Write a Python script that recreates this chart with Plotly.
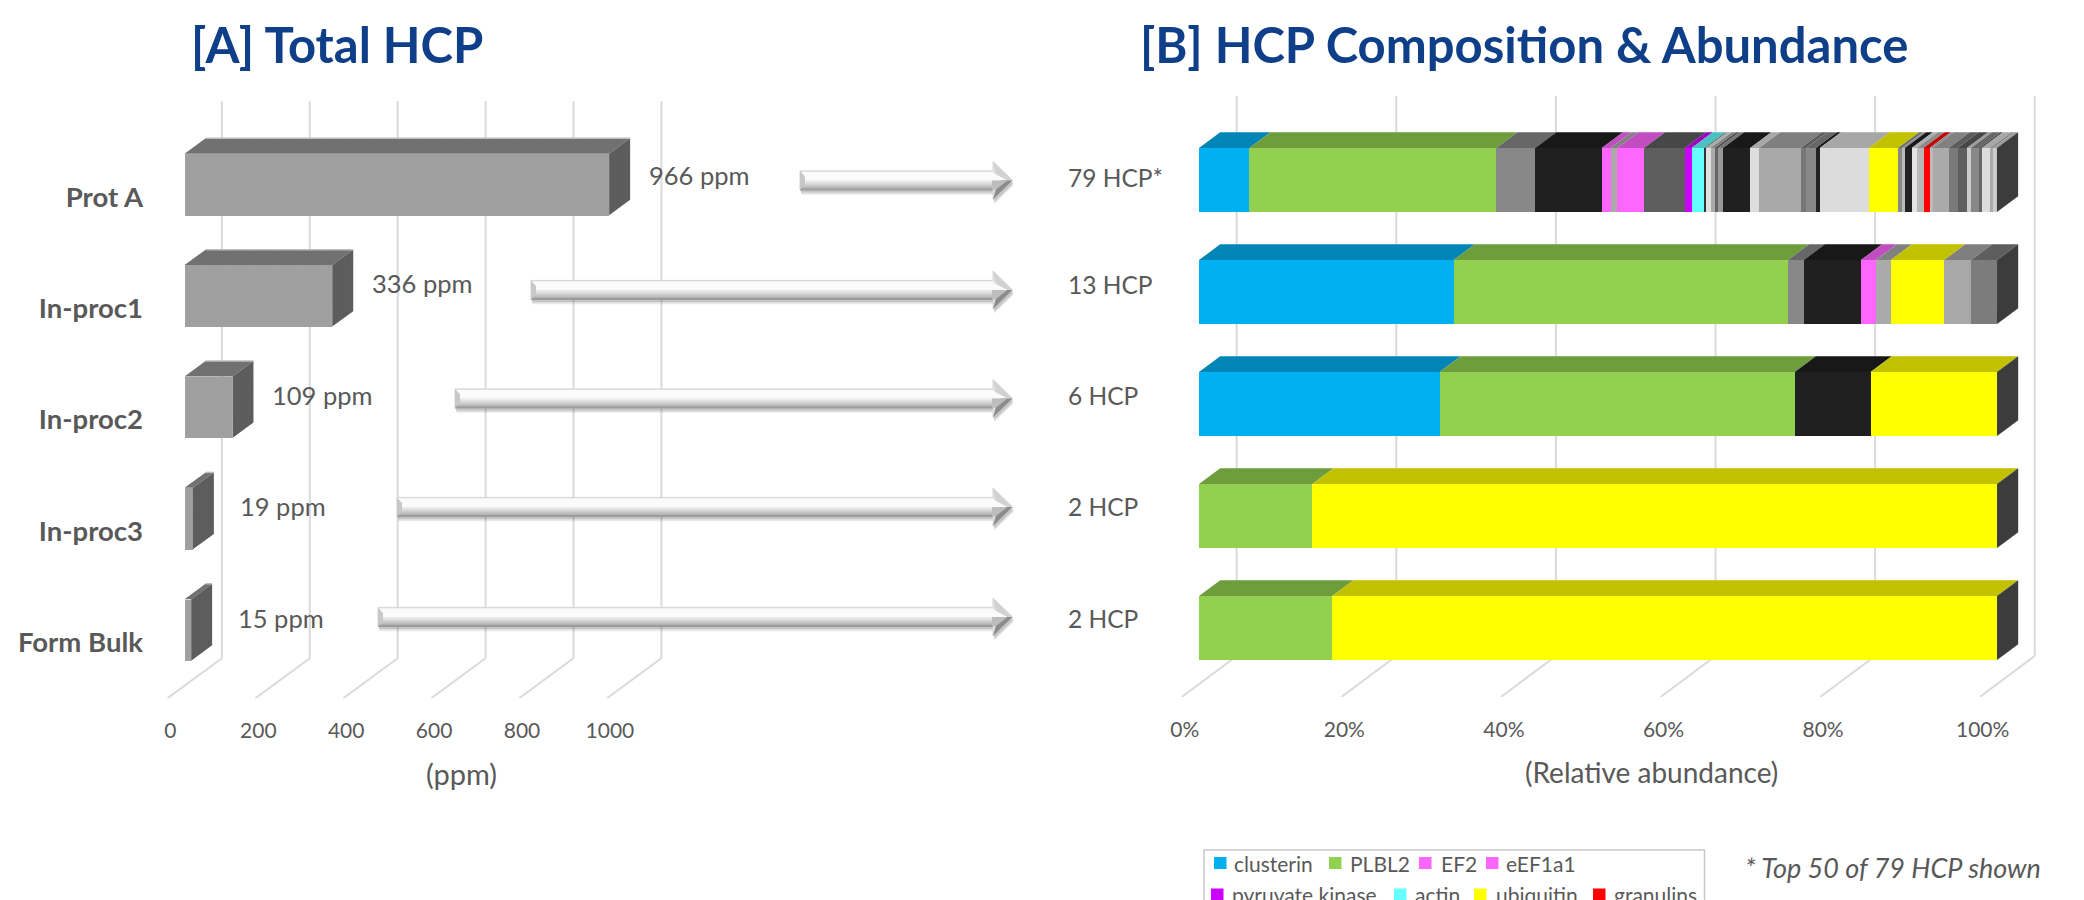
import plotly.graph_objects as go

W, H = 2084, 900

# ---- data -----------------------------------------------------------------
categories = ["Prot A", "In-proc1", "In-proc2", "In-proc3", "Form Bulk"]
total_hcp_ppm = [966, 336, 109, 19, 15]
hcp_counts = ["79 HCP*", "13 HCP", "6 HCP", "2 HCP", "2 HCP"]
ppm_ticks = [0, 200, 400, 600, 800, 1000]
pct_ticks = [0, 0.2, 0.4, 0.6, 0.8, 1.0]

prot_a_pct = [6.31, 30.95, 4.86, 8.36, 1.09, 0.84, 3.34, 5.14, 0.84, 1.63, 0.13, 0.63, 0.54,
              0.43, 0.58, 3.39, 1.13, 5.23, 0.63, 1.25, 0.50, 6.11, 3.71, 0.43, 0.41, 0.84,
              0.66, 0.84, 0.75, 0.41, 1.97, 1.13, 1.17, 0.50, 1.04, 0.34, 1.04, 0.34, 0.50]
in_proc1_pct = [31.9, 41.9, 1.97, 7.18, 1.83, 1.91, 6.69, 3.38, 3.24]
in_proc2_pct = [30.15, 44.5, 9.5, 15.85]
in_proc3_pct = [14.2, 85.8]
form_bulk_pct = [16.7, 83.3]
composition_pct = [prot_a_pct, in_proc1_pct, in_proc2_pct, in_proc3_pct, form_bulk_pct]

# ---- palette --------------------------------------------------------------
CLU, PLB, MAG, PYR, ACT, UBQ, GRN = "#00b0f0", "#92d050", "#ff66ff", "#cc00ff", "#66ffff", "#ffff00", "#ff0000"
prot_a_colors = [CLU, PLB, "#888888", "#202020", MAG, "#aaaaaa", MAG, "#5e5e5e", PYR, ACT, "#333333",
                 "#e0e0e0", "#aaaaaa", "#666666", "#999999", "#202020", "#dddddd", "#a8a8a8", "#777777",
                 "#888888", "#222222", "#dcdcdc", UBQ, "#888888", "#bbbbbb", "#222222", "#e4e4e4",
                 "#b8b8b8", GRN, "#bbbbbb", "#aaaaaa", "#7a7a7a", "#5e5e5e", "#cccccc", "#888888",
                 "#666666", "#dddddd", "#aaaaaa", "#cccccc"]
in_proc1_colors = [CLU, PLB, "#888888", "#202020", MAG, "#aaaaaa", UBQ, "#a8a8a8", "#7c7c7c"]
in_proc2_colors = [CLU, PLB, "#202020", UBQ]
in_proc3_colors = [PLB, UBQ]
form_bulk_colors = [PLB, UBQ]
composition_colors = [prot_a_colors, in_proc1_colors, in_proc2_colors, in_proc3_colors, form_bulk_colors]

legend_rows = [
    [("clusterin", CLU, 1214, 1232), ("PLBL2", PLB, 1329, 1348), ("EF2", MAG, 1419, 1439), ("eEF1a1", MAG, 1486, 1504)],
    [("pyruvate kinase", PYR, 1211, 1230), ("actin", ACT, 1394, 1413), ("ubiquitin", UBQ, 1474, 1494), ("granulins", GRN, 1593, 1612)],
]

TEXT = "#595959"
GRID = "#dadada"
TITLE = "#0f3f88"
FONT = "Lato"


def fx(x):
    return x / W


def fy(y):
    return 1 - y / H


def darken(c, k=0.76):
    r, g, b = (int(c[i:i + 2], 16) for i in (1, 3, 5))
    return "#%02x%02x%02x" % (int(r * k), int(g * k), int(b * k))


# ---- oblique projection: depth 0 is the front of the floor, depth 1 the back wall
BAR_FRONT, BAR_BACK = 0.315, 0.70


class Panel:
    def __init__(self, xa, ya, x_zero_px, px_per_unit, row0_px, pitch, dom_x, dx_px, dy_px, bar_h):
        self.xa, self.ya = xa, ya
        self.dx = dx_px / px_per_unit
        self.dy = dy_px / pitch
        self.bar_h = bar_h / pitch
        self.xrange = [(dom_x[0] - x_zero_px) / px_per_unit, (dom_x[1] - x_zero_px) / px_per_unit]
        self.domx = [fx(dom_x[0]), fx(dom_x[1])]
        top = row0_px - pitch
        bot = row0_px + 4.5 * pitch
        self.domy = [fy(bot), fy(top)]
        self.yrange = [4.5, -1.0]

    def pt(self, x, row, depth):
        return x + depth * self.dx, row - depth * self.dy

    def face(self, corners):
        xs, ys = zip(*[self.pt(*c) for c in corners])
        return list(xs) + [xs[0]], list(ys) + [ys[0]]

    def block_faces(self, x0, x1, row):
        h = self.bar_h / 2
        top = self.face([(x0, row - h, BAR_FRONT), (x1, row - h, BAR_FRONT), (x1, row - h, BAR_BACK), (x0, row - h, BAR_BACK)])
        side = self.face([(x1, row - h, BAR_FRONT), (x1, row + h, BAR_FRONT), (x1, row + h, BAR_BACK), (x1, row - h, BAR_BACK)])
        return top, side

    def grid_shapes(self, ticks):
        out = []
        line = dict(color=GRID, width=2)
        for t in ticks:
            wx, wy_top = self.pt(t, -0.5, 1)
            _, wy_bot = self.pt(t, 4.5, 1)
            fx0, fy0 = self.pt(t, 4.5, 0)
            for a, b, c, d in [(wx, wy_top, wx, wy_bot), (wx, wy_bot, fx0, fy0)]:
                out.append(dict(type="line", xref=self.xa, yref=self.ya, x0=a, y0=b, x1=c, y1=d, layer="below", line=line))
        return out


A = Panel("x", "y", 167.4, 0.4395, 197.0, 111.4, (144, 1020), 54.5, 40.0, 61.5)
B = Panel("x2", "y2", 1181.7, 798.0, 193.0, 112.0, (1160, 2065), 55.0, 41.0, 64.0)

fig = go.Figure()

# Panel A: extruded total-HCP bars
FRONT_A, TOP_A, SIDE_A = "#9d9d9d", "#727272", "#5f5f5f"
for i, v in enumerate(total_hcp_ppm):
    base, row_y = A.pt(0, i, BAR_FRONT)
    fig.add_trace(go.Bar(
        y=[row_y], x=[v], base=[base], orientation="h", width=A.bar_h, xaxis="x", yaxis="y",
        marker=dict(color=FRONT_A, line_width=0,
                    pattern=dict(shape=".", size=3, solidity=0.5, fgcolor="#959595", bgcolor="#a3a3a3")),
        showlegend=False, hoverinfo="x+y"))
    top, side = A.block_faces(0, v, i)
    for (xs, ys), col, fg in [(top, TOP_A, "#6a6a6a"), (side, SIDE_A, "#565656")]:
        fig.add_trace(go.Scatter(x=xs, y=ys, xaxis="x", yaxis="y", mode="none", fill="toself", fillcolor=col,
                                 fillpattern=dict(shape=".", size=3, solidity=0.5, fgcolor=fg, bgcolor=col),
                                 showlegend=False, hoverinfo="skip"))
    # light rim along the rear top edge
    (ex0, ey0), (ex1, ey1) = A.pt(0, i - A.bar_h / 2, BAR_BACK), A.pt(v, i - A.bar_h / 2, BAR_BACK)
    fig.add_trace(go.Scatter(x=[ex0, ex1], y=[ey0, ey1], xaxis="x", yaxis="y", mode="lines",
                             line=dict(color="#bdbdbd", width=1.5), showlegend=False, hoverinfo="skip"))

# Panel B: stacked composition bars
for i, (pcts, cols) in enumerate(zip(composition_pct, composition_colors)):
    fractions = [p / 100 for p in pcts]
    starts = [sum(fractions[:k]) for k in range(len(fractions))]
    origin, row_y = B.pt(0, i, BAR_FRONT)
    fig.add_trace(go.Bar(
        y=[row_y] * len(fractions), x=fractions, base=[origin + s for s in starts], orientation="h",
        width=B.bar_h, xaxis="x2", yaxis="y2", marker=dict(color=cols, line_width=0),
        showlegend=False, hoverinfo="x"))
    for s, f, c in zip(starts, fractions, cols):
        (xs, ys), _ = B.block_faces(s, s + f, i)
        fig.add_trace(go.Scatter(x=xs, y=ys, xaxis="x2", yaxis="y2", mode="none", fill="toself",
                                 fillcolor=darken(c), showlegend=False, hoverinfo="skip"))
    total = sum(fractions)
    _, (xs, ys) = B.block_faces(0, total, i)
    fig.add_trace(go.Scatter(x=xs, y=ys, xaxis="x2", yaxis="y2", mode="none", fill="toself",
                             fillcolor="#3c3c3c", showlegend=False, hoverinfo="skip"))


# ---- beveled callout arrows, in page pixels ---------------------------------
def poly(points, fill, line=None, lw=0):
    path = "M " + " L ".join(f"{fx(x):.6f} {fy(y):.6f}" for x, y in points) + " Z"
    return dict(type="path", xref="paper", yref="paper", path=path, fillcolor=fill,
                line=dict(color=line or "rgba(0,0,0,0)", width=lw), layer="above")


def arrow_shapes(tail, tip, yc):
    sh, hh = 9.6, 19
    hb = tip - 19.5
    outline = [(tail, yc - sh), (hb, yc - sh), (hb, yc - hh), (tip, yc), (hb, yc + hh), (hb, yc + sh), (tail, yc + sh)]
    out = []
    for dx, dy, alpha in [(1, 5, 0.05), (1.5, 4, 0.07), (1, 2.5, 0.12)]:
        out.append(poly([(x + dx, y + dy) for x, y in outline], f"rgba(0,0,0,{alpha})"))
    out.append(poly(outline, "#e4e4e4", "#d6d6d6", 1))
    out.append(poly([(tail, yc - sh + 1), (hb, yc - sh + 1), (hb, yc), (tail, yc)], "#fbfbfb"))
    bands = ["#ececec", "#e0e0e0", "#d2d2d2", "#c4c4c4", "#b2b2b2", "#9c9c9c"]
    step = sh / len(bands)
    for k, col in enumerate(bands):
        out.append(poly([(tail, yc + k * step), (hb, yc + k * step), (hb, yc + (k + 1) * step + 0.3), (tail, yc + (k + 1) * step + 0.3)], col))
    # tail and head bevels
    out.append(poly([(tail, yc - sh), (tail + 5, yc - 4), (tail + 5, yc + 4), (tail, yc + sh)], "#c8c8c8"))
    out.append(poly([(hb, yc - hh), (tip, yc), (hb + 6, yc), (hb + 3, yc - 5)], "#d2d2d2"))
    out.append(poly([(hb - 1, yc - sh + 1), (hb + 3, yc - 6), (tip - 5, yc), (hb - 1, yc)], "#fafafa"))
    out.append(poly([(hb, yc + hh), (tip, yc), (hb + 8, yc), (hb + 3, yc + 8)], "#8c8c8c"))
    out.append(poly([(hb - 1, yc), (tip - 5, yc), (hb + 3, yc + 9), (hb - 1, yc + sh)], "#bdbdbd"))
    return out


arrow_tail_px = [800, 531, 455, 397, 378]
arrow_mid_px = [180.5, 290, 398.5, 507, 617]
ARROW_TIP = 1012.5

shapes = A.grid_shapes(ppm_ticks) + B.grid_shapes(pct_ticks)
for tail, mid in zip(arrow_tail_px, arrow_mid_px):
    shapes += arrow_shapes(tail, ARROW_TIP, mid)

# ---- legend box, cut off by the bottom of the page ---------------------------
LEG_L, LEG_R, LEG_T = 1204, 1704.5, 850
shapes.append(dict(type="rect", xref="paper", yref="paper", x0=fx(LEG_L), x1=fx(LEG_R), y0=fy(LEG_T), y1=fy(930),
                   line=dict(color="#c8c8c8", width=1.5), fillcolor="white", layer="above"))
legend_y = [863, 894.5]
annots = []
for row, yc in zip(legend_rows, legend_y):
    for name, col, sx, tx in row:
        shapes.append(dict(type="rect", xref="paper", yref="paper", x0=fx(sx), x1=fx(sx + 12.5),
                           y0=fy(yc - 6), y1=fy(yc + 6), line_width=0, fillcolor=col, layer="above"))
        annots.append(dict(text=name, xref="paper", yref="paper", x=fx(tx), y=fy(yc), xanchor="left", yanchor="middle",
                           showarrow=False, font=dict(family=FONT, size=21, color=TEXT)))


def page_text(text, x, y, size, anchor="left", color=TEXT, **font):
    annots.append(dict(text=text, xref="paper", yref="paper", x=fx(x), y=fy(y), xanchor=anchor, yanchor="middle",
                       showarrow=False, font=dict(family=font.pop("family", FONT), size=size, color=color, **font)))


page_text("<b>[A] Total HCP</b>", 189, 44, 49, color=TITLE)
page_text("<b>[B] HCP Composition &amp; Abundance</b>", 1138, 44, 49, color=TITLE)
page_text("<i>* Top 50 of 79 HCP shown</i>", 1743, 867, 27)
page_text("(ppm)", 461, 773, 29, anchor="center")
page_text("(Relative abundance)", 1651, 772, 28, anchor="center")

# value labels sit a fixed gap past each bar's front edge
value_label_y = [175, 283, 395, 506, 617.5]
for v, y in zip(total_hcp_ppm, value_label_y):
    base, _ = A.pt(0, 0, BAR_FRONT)
    annots.append(dict(text=f"{v} ppm", xref="x", yref="paper", x=base + v, y=fy(y), xanchor="left", yanchor="middle",
                       xshift=38 if v > 50 else 45, showarrow=False,
                       font=dict(family=FONT, size=25.5, color=TEXT)))

hcp_label_y = [177, 284.5, 395, 506.5, 618]
for label, y in zip(hcp_counts, hcp_label_y):
    page_text(label, 1065.5, y, 24.5)

fig.update_layout(
    width=W, height=H, autosize=False, margin=dict(l=0, r=0, t=0, b=0), showlegend=False,
    paper_bgcolor="white", plot_bgcolor="rgba(0,0,0,0)", barmode="overlay", bargap=0,
    font=dict(family=FONT, color=TEXT),
    shapes=shapes, annotations=annots,
    xaxis=dict(domain=A.domx, range=A.xrange, anchor="y", tickvals=ppm_ticks, ticktext=[str(t) for t in ppm_ticks],
               showgrid=False, zeroline=False, showline=False, ticks="", ticklabelstandoff=18, ticklabelshift=3,
               tickfont=dict(family=FONT, size=21, color=TEXT)),
    yaxis=dict(domain=A.domy, range=A.yrange, anchor="x", tickvals=list(range(5)), ticktext=categories,
               showgrid=False, zeroline=False, showline=False, ticks="",
               tickfont=dict(family=FONT, size=27.5, color=TEXT, weight="bold")),
    xaxis2=dict(domain=B.domx, range=B.xrange, anchor="y2", tickvals=pct_ticks, tickformat=".0%",
                showgrid=False, zeroline=False, showline=False, ticks="", ticklabelstandoff=18, ticklabelshift=3,
                tickfont=dict(family=FONT, size=21, color=TEXT)),
    yaxis2=dict(domain=B.domy, range=B.yrange, anchor="x2", showticklabels=False,
                showgrid=False, zeroline=False, showline=False, ticks=""),
)

fig.write_html("out.html")
